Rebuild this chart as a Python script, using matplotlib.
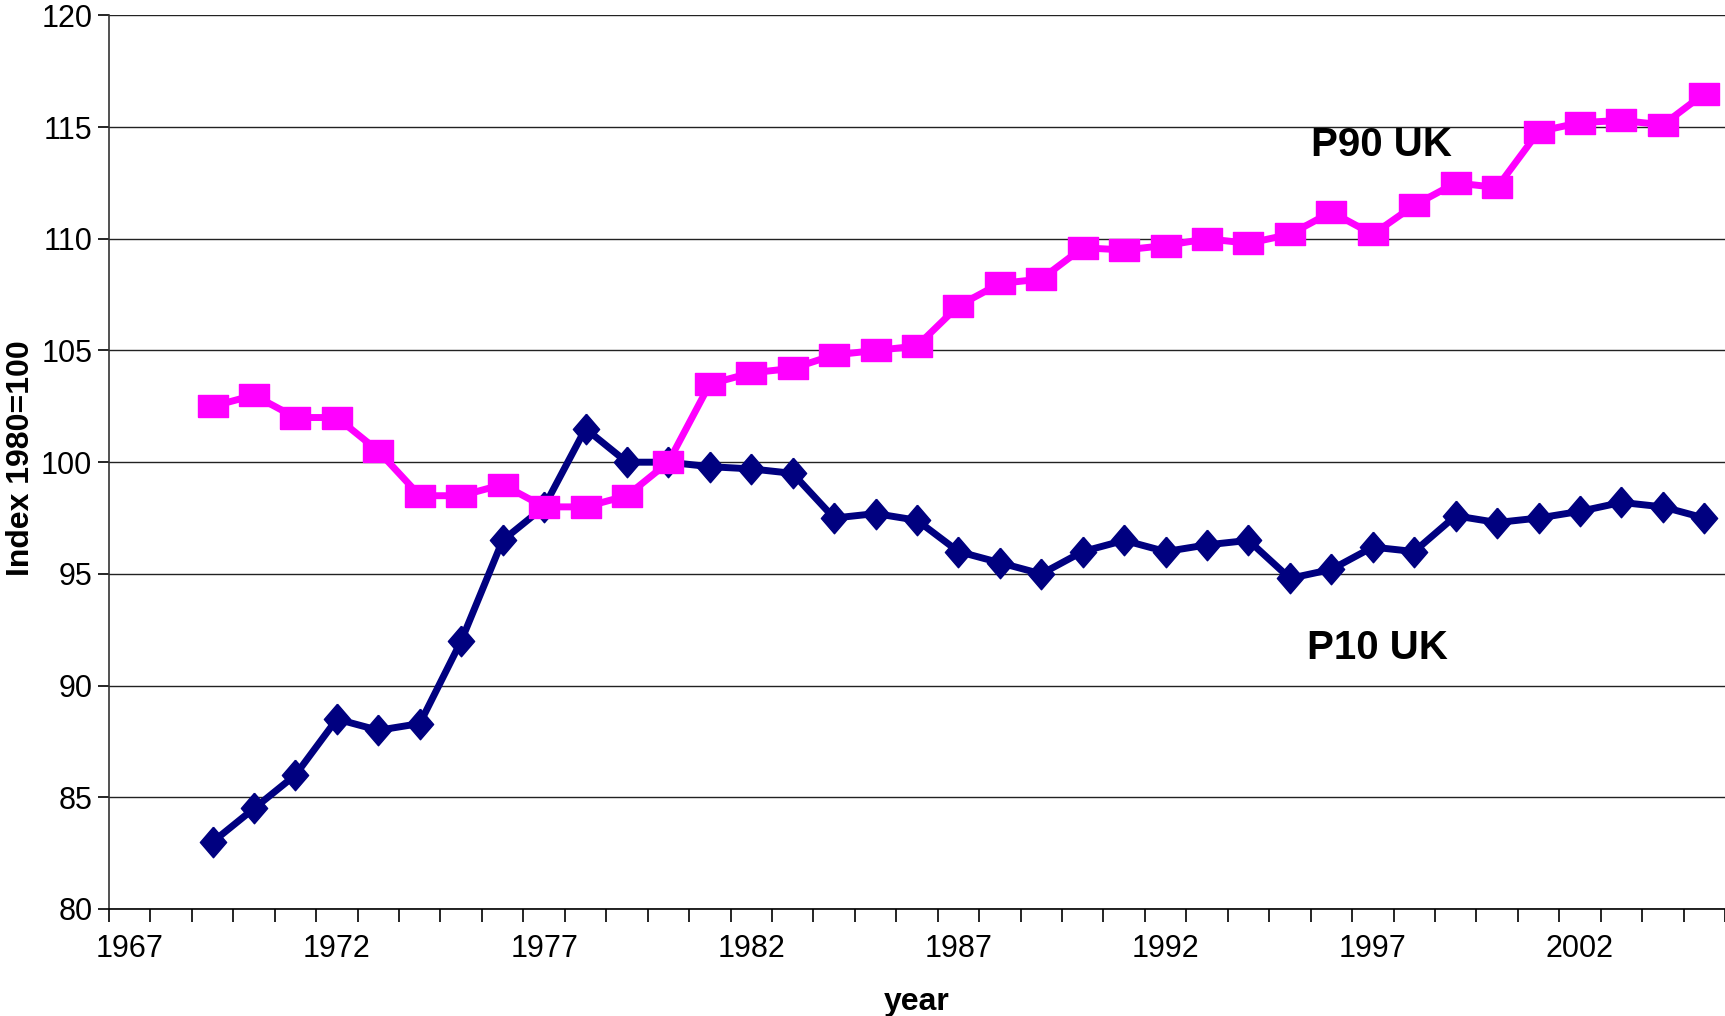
import matplotlib
matplotlib.use("Agg")
import matplotlib.pyplot as plt
from matplotlib.ticker import FixedLocator, NullFormatter

plt.rcParams['font.family'] = ['Liberation Sans', 'DejaVu Sans']

years = list(range(1969, 2006))
p10_uk = [83.0, 84.5, 86.0, 88.5, 88.0, 88.3, 92.0, 96.5, 98.0, 101.5,
          100.0, 100.0, 99.8, 99.7, 99.5, 97.5, 97.7, 97.4, 96.0, 95.5,
          95.0, 96.0, 96.5, 96.0, 96.3, 96.5, 94.8, 95.2, 96.2, 96.0,
          97.6, 97.3, 97.5, 97.8, 98.2, 98.0, 97.5]
p90_uk = [102.5, 103.0, 102.0, 102.0, 100.5, 98.5, 98.5, 99.0, 98.0, 98.0,
          98.5, 100.0, 103.5, 104.0, 104.2, 104.8, 105.0, 105.2, 107.0, 108.0,
          108.2, 109.6, 109.5, 109.7, 110.0, 109.8, 110.2, 111.2, 110.2, 111.5,
          112.5, 112.3, 114.8, 115.2, 115.3, 115.1, 116.5]
year_labels = [1967, 1972, 1977, 1982, 1987, 1992, 1997, 2002]
y_ticks = [80, 85, 90, 95, 100, 105, 110, 115, 120]

fig = plt.figure(figsize=(17.25, 10.16), dpi=100)
ax = fig.add_axes([109/1725, 1 - 909/1016, 1 - 109/1725, (909 - 15.4)/1016])

sq = [(-0.6, -0.45), (0.6, -0.45), (0.6, 0.45), (-0.6, 0.45), (-0.6, -0.45)]
dm = [(0, 0.5), (0.43, 0), (0, -0.5), (-0.43, 0), (0, 0.5)]

ax.plot(years, p10_uk, color='#000080', lw=5, marker=dm, markersize=22,
        markerfacecolor='#000080', markeredgecolor='#000080', zorder=3)
ax.plot(years, p90_uk, color='#FF00FF', lw=5, marker=sq, markersize=21,
        markerfacecolor='#FF00FF', markeredgecolor='#FF00FF', zorder=4)

ax.set_xlim(1966.5, 2005.5)
ax.set_ylim(80, 120)
ax.set_yticks(y_ticks)
ax.yaxis.grid(True, color='#222222', lw=1.0)
ax.set_axisbelow(True)

ax.set_xticks(year_labels)
ax.set_xticklabels([str(y) for y in year_labels])
ax.xaxis.set_minor_locator(FixedLocator([y + 0.5 for y in range(1966, 2006)]))
ax.xaxis.set_minor_formatter(NullFormatter())
ax.tick_params(axis='x', which='major', length=0, pad=18, labelsize=22)
ax.tick_params(axis='x', which='minor', length=9, width=1.2, direction='out')
ax.tick_params(axis='y', which='major', length=8, width=1.2, direction='out', pad=4, labelsize=22)

for s in ['top', 'right']:
    ax.spines[s].set_visible(False)
ax.spines['left'].set_linewidth(1.2)
ax.spines['bottom'].set_linewidth(1.2)
ax.spines['left'].set_color('#333333')

ax.set_ylabel('Index 1980=100', fontsize=23, fontweight='bold')
ax.yaxis.set_label_coords(-0.045, 0.505)
ax.set_xlabel('year', fontsize=23, fontweight='bold')
ax.xaxis.set_label_coords(0.5, -0.087)

ax.text(1997.2, 114.2, 'P90 UK', fontsize=29, fontweight='bold',
        ha='center', va='center')
ax.text(1997.1, 91.7, 'P10 UK', fontsize=29, fontweight='bold',
        ha='center', va='center')

fig.savefig('out.png', dpi=100)
